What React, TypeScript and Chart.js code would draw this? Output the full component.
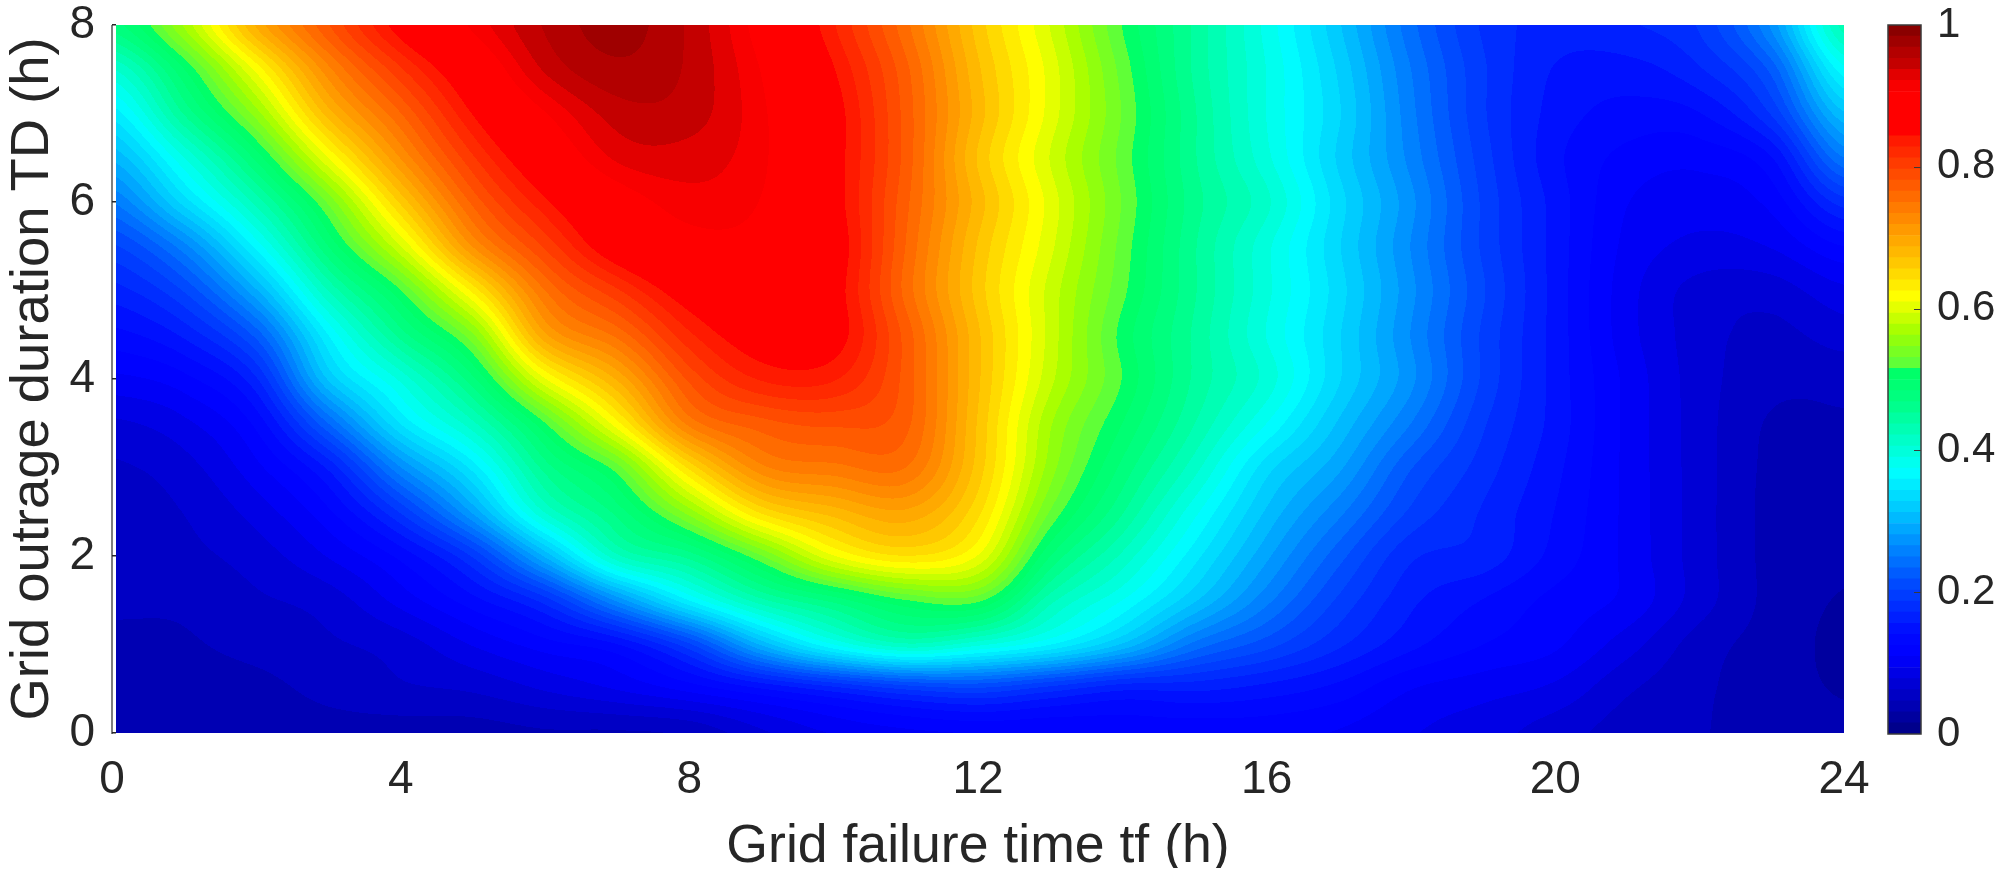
import React, { useEffect, useRef } from "react";
import { Chart, registerables } from "chart.js";

Chart.register(...registerables);

const FONT = "'Liberation Sans', Arial, sans-serif";
const INK = "#262626";

const hours = [0, 1, 2, 3, 4, 5, 6, 7, 8, 9, 10, 11, 12, 13, 14, 15, 16, 17, 18, 19, 20, 21, 22, 23, 24];
const durations = [0, 0.5, 1, 1.5, 2, 2.5, 3, 3.5, 4, 4.5, 5, 5.5, 6, 6.5, 7, 7.5, 8];

const h00 = [.035,.035,.042,.05,.052,.055,.06,.075,.105,.135,.165,.2,.25,.3,.35,.405,.475];
const h01 = [.035,.04,.045,.05,.058,.063,.072,.09,.12,.16,.205,.26,.335,.39,.455,.5,.565];
const h02 = [.035,.042,.052,.06,.07,.085,.105,.13,.17,.225,.295,.365,.428,.49,.555,.615,.69];
const h03 = [.04,.052,.06,.07,.095,.122,.16,.235,.315,.36,.423,.485,.535,.61,.68,.73,.78];
const h04 = [.04,.06,.07,.1,.13,.19,.265,.345,.395,.46,.515,.593,.66,.72,.765,.81,.855];
const h05 = [.04,.065,.095,.135,.19,.285,.35,.418,.48,.545,.63,.72,.77,.81,.845,.875,.91];
const h06 = [.045,.08,.118,.18,.3,.408,.46,.515,.608,.7,.75,.8,.84,.875,.905,.94,.955];
const h07 = [.045,.095,.14,.27,.418,.475,.525,.62,.69,.755,.81,.865,.89,.925,.945,.965,.975];
const h08 = [.05,.115,.2,.36,.46,.555,.645,.74,.785,.825,.86,.895,.915,.93,.945,.95,.95];
const h09 = [.075,.14,.3,.433,.53,.645,.73,.775,.83,.86,.875,.895,.905,.91,.91,.905,.895];
const h10 = [.095,.165,.375,.475,.608,.68,.745,.785,.83,.855,.855,.86,.855,.855,.855,.845,.83];
const h11 = [.105,.19,.418,.515,.64,.7,.75,.77,.775,.775,.76,.765,.77,.775,.775,.77,.755];
const h12 = [.11,.2,.395,.52,.608,.645,.665,.67,.675,.675,.665,.67,.68,.67,.68,.675,.665];
const h13 = [.11,.18,.36,.428,.485,.53,.555,.565,.583,.588,.588,.598,.603,.593,.603,.603,.593];
const h14 = [.115,.16,.31,.375,.418,.455,.48,.5,.515,.51,.52,.525,.53,.525,.53,.525,.515];
const h15 = [.115,.16,.245,.315,.35,.38,.413,.438,.45,.45,.455,.455,.46,.455,.455,.45,.45];
const h16 = [.115,.15,.21,.255,.285,.31,.335,.375,.4,.39,.395,.395,.41,.395,.39,.39,.385];
const h17 = [.108,.135,.175,.2,.225,.255,.285,.31,.33,.33,.335,.33,.335,.325,.33,.325,.315];
const h18 = [.095,.11,.145,.16,.175,.2,.22,.25,.27,.265,.27,.265,.27,.26,.255,.25,.24];
const h19 = [.085,.1,.125,.14,.165,.17,.18,.19,.2,.2,.205,.2,.2,.195,.19,.19,.185];
const h20 = [.07,.09,.112,.12,.135,.14,.145,.15,.15,.15,.15,.15,.15,.145,.15,.155,.165];
const h21 = [.055,.065,.085,.105,.105,.105,.105,.105,.105,.1,.1,.105,.11,.12,.135,.15,.17];
const h22 = [.048,.05,.055,.07,.07,.07,.07,.07,.07,.07,.072,.09,.1,.115,.14,.17,.19];
const h23 = [.04,.038,.04,.042,.042,.042,.043,.045,.052,.058,.07,.095,.115,.14,.19,.225,.27];
const h24 = [.035,.03,.027,.03,.035,.038,.04,.045,.052,.07,.09,.125,.18,.25,.31,.37,.43];
const columns = [h00,h01,h02,h03,h04,h05,h06,h07,h08,h09,h10,h11,h12,h13,h14,h15,h16,h17,h18,h19,h20,h21,h22,h23,h24];

const xTicks = [0, 4, 8, 12, 16, 20, 24];
const yTicks = [0, 2, 4, 6, 8];
const barTicks = [0, 0.2, 0.4, 0.6, 0.8, 1];
const LEVELS = 64;

// colormap: value, r, g, b
const stops: number[][] = [
  [0, 0, 0, 130], [.048, 0, 0, 190], [.11, 0, 0, 255], [.142, 0, 10, 255], [.217, 0, 80, 255],
  [.316, 0, 200, 255], [.37, 0, 255, 255], [.47, 0, 255, 130], [.515, 0, 255, 100], [.516, 85, 255, 65],
  [.565, 160, 255, 0], [.616, 255, 255, 0], [.664, 255, 200, 0], [.755, 255, 110, 0], [.842, 255, 20, 0],
  [.845, 255, 0, 0], [.908, 255, 0, 0], [.925, 235, 0, 0], [.946, 195, 0, 0], [.965, 175, 0, 0], [1, 128, 0, 0],
];

function rgbAt(v: number): number[] {
  for (let i = 1; i < stops.length; i++) {
    if (v <= stops[i][0]) {
      const a = stops[i - 1], b = stops[i];
      const t = (v - a[0]) / (b[0] - a[0]);
      return [a[1] + (b[1] - a[1]) * t, a[2] + (b[2] - a[2]) * t, a[3] + (b[3] - a[3]) * t];
    }
  }
  return [128, 0, 0];
}
const bandColors = Array.from({ length: LEVELS }, (_, i) => rgbAt((i + 0.5) / LEVELS).map(Math.round));

function spline(p0: number, p1: number, p2: number, p3: number, t: number): number {
  return 0.5 * (2 * p1 + (p2 - p0) * t + (2 * p0 - 5 * p1 + 4 * p2 - p3) * t * t + (3 * p1 - p0 - 3 * p2 + p3) * t * t * t);
}

function valueAt(x: number, y: number): number {
  const nx = hours.length, ny = durations.length;
  const i = Math.max(0, Math.min(nx - 2, Math.floor(x)));
  const j = Math.max(0, Math.min(ny - 2, Math.floor(y * 2)));
  const tx = Math.max(0, Math.min(1, x - hours[i]));
  const ty = Math.max(0, Math.min(1, (y - durations[j]) * 2));
  const samples = [-1, 0, 1, 2].map((d) => {
    const c = columns[Math.max(0, Math.min(nx - 1, i + d))];
    return spline(c[Math.max(0, j - 1)], c[j], c[j + 1], c[Math.min(ny - 1, j + 2)], ty);
  });
  return spline(samples[0], samples[1], samples[2], samples[3], tx);
}

const contourPlugin = {
  id: "contourFill",
  beforeDatasetsDraw(chart: any) {
    const { ctx, chartArea, scales } = chart;
    const fillLeft = Math.round(chartArea.left) + 4;
    const w = Math.round(chartArea.right) - fillLeft;
    const top = Math.round(chartArea.top);
    const h = Math.round(chartArea.bottom) - top;
    const off = document.createElement("canvas");
    off.width = w;
    off.height = h;
    const octx = off.getContext("2d")!;
    const img = octx.createImageData(w, h);
    const xs = Array.from({ length: w }, (_, i) => scales.x.getValueForPixel(fillLeft + i + 0.5));
    const ys = Array.from({ length: h }, (_, j) => scales.y.getValueForPixel(top + j + 0.5));
    let p = 0;
    for (let j = 0; j < h; j++) {
      for (let i = 0; i < w; i++) {
        const v = valueAt(xs[i], ys[j]);
        const c = bandColors[Math.max(0, Math.min(LEVELS - 1, Math.floor(v * LEVELS)))];
        img.data[p++] = c[0];
        img.data[p++] = c[1];
        img.data[p++] = c[2];
        img.data[p++] = 255;
      }
    }
    octx.putImageData(img, 0, 0);
    ctx.save();
    ctx.drawImage(off, fillLeft, top);
    ctx.restore();
  },
  afterDatasetsDraw(chart: any) {
    const { ctx, chartArea, scales } = chart;
    const l = Math.round(chartArea.left);
    ctx.save();
    ctx.fillStyle = "#7f7f7f";
    ctx.fillRect(l - 1, chartArea.top, 2, chartArea.bottom - chartArea.top + 1);
    ctx.fillStyle = INK;
    for (const t of yTicks) {
      const y = Math.round(scales.y.getPixelForValue(t));
      ctx.fillRect(l, y - 1, 4, 1.5);
    }
    ctx.restore();
  },
};

const barFramePlugin = {
  id: "barFrame",
  afterDatasetsDraw(chart: any) {
    const { ctx, chartArea, scales } = chart;
    ctx.save();
    ctx.strokeStyle = "#3a3a3a";
    ctx.lineWidth = 1.5;
    ctx.strokeRect(chartArea.left, chartArea.top, chartArea.right - chartArea.left, chartArea.bottom - chartArea.top);
    ctx.beginPath();
    for (const t of barTicks.slice(1, -1)) {
      const y = Math.round(scales.y.getPixelForValue(t)) + 0.5;
      ctx.moveTo(chartArea.right - 7, y);
      ctx.lineTo(chartArea.right, y);
    }
    ctx.lineWidth = 1;
    ctx.stroke();
    ctx.restore();
  },
};

export default function App() {
  const mainRef = useRef<HTMLCanvasElement>(null);
  const barRef = useRef<HTMLCanvasElement>(null);

  useEffect(() => {
    const points: { x: number; y: number; v: number }[] = [];
    hours.forEach((x, i) => durations.forEach((y, j) => points.push({ x, y, v: columns[i][j] })));

    const main = new Chart(mainRef.current!, {
      type: "scatter",
      data: { datasets: [{ label: "Grid", data: points, pointRadius: 0, showLine: false }] },
      plugins: [contourPlugin],
      options: {
        animation: false,
        responsive: false,
        layout: { padding: { left: 0, right: 162, top: 25, bottom: 0 } },
        plugins: { legend: { display: false }, tooltip: { enabled: false } },
        scales: {
          x: {
            type: "linear",
            min: 0,
            max: 24,
            afterBuildTicks: (s: any) => { s.ticks = xTicks.map((value) => ({ value })); },
            afterFit: (s: any) => { s.height = 135; s.paddingLeft = 0; s.paddingRight = 0; },
            grid: { display: false },
            border: { display: false },
            ticks: { color: INK, font: { family: FONT, size: 46 }, padding: 12, maxRotation: 0, autoSkip: false },
            title: { display: true, text: "Grid failure time tf (h)", color: INK, font: { family: FONT, size: 53.6, lineHeight: 1 }, padding: { top: 4, bottom: -6 } },
          },
          y: {
            type: "linear",
            min: 0,
            max: 8,
            afterBuildTicks: (s: any) => { s.ticks = yTicks.map((value) => ({ value })); },
            afterFit: (s: any) => { s.width = 112; s.paddingTop = 0; s.paddingBottom = 0; },
            grid: { display: false },
            border: { display: false },
            ticks: { color: INK, font: { family: FONT, size: 46 }, padding: 9 },
            title: { display: true, text: "Grid outrage duration TD (h)", color: INK, font: { family: FONT, size: 54.4 }, padding: { top: 0, bottom: 0 } },
          },
        },
      },
    } as any);

    const bar = new Chart(barRef.current!, {
      type: "bar",
      data: {
        labels: ["c"],
        datasets: bandColors.map((c, i) => ({
          label: `level ${i}`,
          data: [1 / LEVELS],
          backgroundColor: `rgb(${c[0]},${c[1]},${c[2]})`,
          borderWidth: 0,
          barPercentage: 1,
          categoryPercentage: 1,
        })),
      },
      plugins: [barFramePlugin],
      options: {
        animation: false,
        responsive: false,
        layout: { padding: { left: 28, right: 0, top: 25, bottom: 40 } },
        plugins: { legend: { display: false }, tooltip: { enabled: false } },
        scales: {
          x: { stacked: true, display: false },
          y: {
            stacked: true,
            position: "right",
            min: 0,
            max: 1,
            afterBuildTicks: (s: any) => { s.ticks = barTicks.map((value) => ({ value })); },
            afterFit: (s: any) => { s.width = 85; s.paddingTop = 0; s.paddingBottom = 0; },
            grid: { display: false },
            border: { display: false },
            ticks: { color: INK, font: { family: FONT, size: 42 }, padding: 8, callback: (v: any) => String(v) },
          },
        },
      },
    } as any);

    return () => {
      main.destroy();
      bar.destroy();
    };
  }, []);

  return (
    <div style={{ position: "absolute", left: 0, top: 0, width: 2006, height: 883, background: "#fff", overflow: "hidden" }}>
      <canvas ref={mainRef} width={2006} height={868} style={{ position: "absolute", left: 0, top: 0, display: "block" }} />
      <canvas ref={barRef} width={146} height={774} style={{ position: "absolute", left: 1860, top: 0, display: "block" }} />
    </div>
  );
}
